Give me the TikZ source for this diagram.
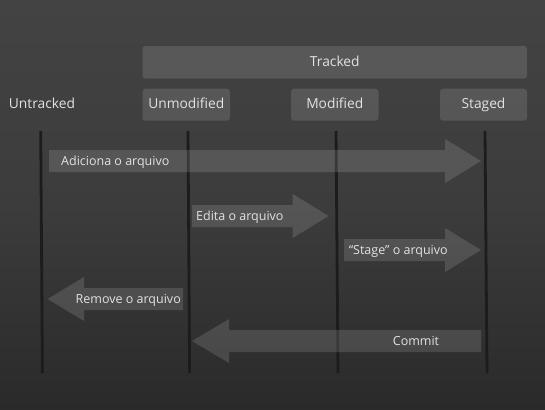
\documentclass[tikz,border=0pt]{standalone}
\usepackage{fontspec}
\setmainfont{Open Sans}
\begin{document}
\begin{tikzpicture}[x=1pt,y=-1pt,
  every node/.style={text=labelgray, inner sep=0pt},
  headlabel/.style={font=\fontsize{13.8}{15}\selectfont, anchor=base},
  flowlabel/.style={font=\fontsize{12.5}{14}\selectfont},
  statebox/.style={fill=white, fill opacity=0.12, rounded corners=3pt},
  lane/.style={draw=lanegray, line width=2.8pt},
  flow/.style={fill=white, fill opacity=0.13}]
\definecolor{labelgray}{HTML}{E2E2E2}
\definecolor{lanegray}{HTML}{1C1C1C}
\definecolor{bgtop}{HTML}{434343}
\definecolor{bgmid}{HTML}{3C3C3C}
\definecolor{bgbot}{HTML}{2A2A2A}

% background
\shade[top color=bgtop, bottom color=bgbot, middle color=bgmid] (0,0) rectangle (545,409);
\useasboundingbox (0,0) rectangle (545,409);

% header boxes
\fill[statebox] (142.5,46) rectangle (527,78.7);
\node[headlabel] (tracked) at (334.8,67) {Tracked};
\fill[statebox] (142.5,88.7) rectangle (230,120.7);
\fill[statebox] (291,88.7) rectangle (378.5,120.7);
\fill[statebox] (440,88.7) rectangle (527,120.7);
\node[headlabel] (untracked) at (42,108.5) {Untracked};
\node[headlabel] (unmodified) at (186.3,108.5) {Unmodified};
\node[headlabel] (modified) at (334.8,108.5) {Modified};
\node[headlabel] (staged) at (483.5,108.5) {Staged};

% lanes
\coordinate (u1) at (40.7,131);  \coordinate (u2) at (42.4,373);
\coordinate (m1) at (188,131);   \coordinate (m2) at (189.6,373);
\coordinate (d1) at (336,131);   \coordinate (d2) at (338,373);
\coordinate (s1) at (485,131);   \coordinate (s2) at (487,373);
\draw[lane] (u1) -- (u2);
\draw[lane] (m1) -- (m2);
\draw[lane] (d1) -- (d2);
\draw[lane] (s1) -- (s2);

% flow arrows: tail x, head base x, tip x, centre y
\newcommand\flowarrow[4]{%
  \fill[flow] (#1,#4-11) -- (#2,#4-11) -- (#2,#4-22) -- (#3,#4)
    -- (#2,#4+22) -- (#2,#4+11) -- (#1,#4+11) -- cycle;}
\flowarrow{49}{445}{481}{161}
\flowarrow{192}{292.7}{328.5}{216}
\flowarrow{344}{445}{481}{250}
\flowarrow{183}{84}{47.6}{299}
\flowarrow{481}{229}{192}{341}

\node[flowlabel, anchor=base west] (add) at (61,165.5) {Adiciona o arquivo};
\node[flowlabel, anchor=base west] (edit) at (196,220.5) {Edita o arquivo};
\node[flowlabel, anchor=base west] (stage) at (348.6,254.5) {“Stage” o arquivo};
\node[flowlabel, anchor=base east] (remove) at (181,303.5) {Remove o arquivo};
\node[flowlabel, anchor=base] (commit) at (416,345) {Commit};
\end{tikzpicture}
\end{document}
